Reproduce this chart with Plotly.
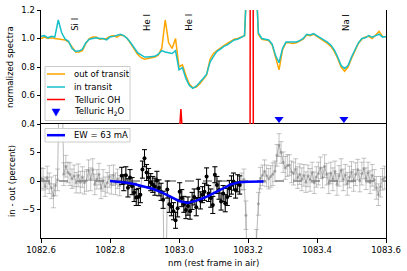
import plotly.graph_objects as go

# ---------------- data ----------------
top_start, top_step, n_top = 1082.60, 0.01, 101
wl_top = [round(top_start + top_step * i, 3) for i in range(n_top)]

in_transit = [1.015, 1.02, 1.005, 1.015, 1.01, 1.13, 1.04, 0.995, 0.98, 0.93,
              0.91, 0.912, 0.925, 0.97, 0.995, 1.0, 1.005, 1.0, 1.0, 0.99,
              1.01, 1.015, 1.02, 1.03, 1.02, 1.0, 0.97, 0.93, 0.9, 0.885,
              0.87, 0.87, 0.87, 0.875, 0.89, 0.915, 0.905, 0.9, 0.895, 0.915,
              0.78, 0.795, 0.72, 0.67, 0.65, 0.665, 0.69, 0.72, 0.75, 0.835,
              0.875, 0.91, 0.925, 0.945, 0.955, 0.97, 0.99, 0.995, 1.005, 1.02,
              1.6, 1.8, 1.6, 1.04, 1.0, 0.995, 0.99, 0.96, 0.88, 0.83,
              0.93, 0.975, 0.975, 0.97, 0.975, 0.985, 1.0, 1.03, 1.025, 1.035,
              1.02, 1.01, 0.995, 0.975, 0.955, 0.92, 0.87, 0.81, 0.79, 0.81,
              0.87, 0.92, 0.97, 1.0, 1.005, 1.02, 1.01, 1.02, 1.03, 1.01, 1.015]

out_transit = [1.0, 1.01, 1.0, 1.005, 1.0, 0.995, 0.99, 0.99, 0.975, 0.935,
               0.905, 0.905, 0.915, 0.965, 1.0, 1.01, 1.01, 0.995, 1.0, 1.0,
               1.015, 1.02, 1.01, 1.025, 1.02, 1.0, 0.965, 0.925, 0.89, 0.865,
               0.855, 0.86, 0.865, 0.87, 0.885, 0.93, 1.13, 0.97, 0.93, 1.0,
               0.80, 0.815, 0.74, 0.68, 0.655, 0.66, 0.68, 0.71, 0.745, 0.855,
               0.895, 0.915, 0.935, 0.95, 0.965, 0.98, 0.995, 1.0, 1.01, 1.02,
               1.6, 1.8, 1.6, 1.03, 0.995, 0.99, 0.985, 0.955, 0.86, 0.78,
               0.92, 0.97, 0.97, 0.965, 0.97, 0.98, 0.995, 1.025, 1.02, 1.03,
               1.015, 1.0, 0.985, 0.965, 0.945, 0.91, 0.86, 0.8, 0.77, 0.8,
               0.86, 0.91, 0.965, 0.995, 1.01, 1.015, 1.0, 1.025, 1.05, 1.015, 1.01]

oh_wl = [1082.600, 1083.000, 1083.0055, 1083.011, 1083.206, 1083.2107, 1083.2154, 1083.600]
oh_val = [0.3, 0.3, 0.505, 0.3, 0.3, 12.0, 0.3, 0.3]

h2o_wl = [1083.290, 1083.478]
h2o_val = [0.435, 0.435]

line_wl = [1082.700, 1082.909, 1083.030, 1083.486]
line_names = ["Si I", "He I", "He I", "Na I"]

res_start, res_step, n_res = 1082.60, 0.006, 167
wl_res = [round(res_start + res_step * j, 4) for j in range(n_res)]

residual = [0.5, 0.3, -1.0, 0.6, -0.4, -1.2, -2.6, -0.8, 0.2, 22,
            20, 1.2, 2.6, 1.5, 1.2, 0.4, 0.9, -0.3, 1.0, -0.2,
            0.7, -0.3, 0.1, 1.9, 0.3, 2.0, -0.6, 0.3, 1.2, -1.3,
            0.1, -1.0, -0.3, 0.8, -0.6, 1.0, -0.5, 0.4, -0.8, 0.9,
            -0.3, 1.0, -1.2, 0.6, -0.9, -2.0, -2.9, -2.8, -2.4, 2.0,
            4.0, 1.5, 0.6, -0.2, -0.6, -1.0, 0.1, -1.2, -1.9, -3.3,
            -30, -1.5, -4.1, -4.5, -5.3, -6.9, -4.8, -1.9, -3.0, -4.1,
            -5.1, -4.4, -5.3, -3.5, -2.8, -4.6, -1.3, -3.4, -2.4, -1.9,
            0.8, -2.2, -3.0, -4.2, 1.1, -0.7, -1.6, -3.6, -2.2, -3.9,
            -2.8, -1.3, -0.7, -0.1, -1.6, -0.4, -0.7, -0.1, 0.3, -6,
            -30, -40, -35, -25, -11, -4, 0.5, 1.0, 1.7, 0.9,
            0.4, 0.8, 1.2, 1.7, 4.5, 6.3, 5.0, 3.3, 2.3, 2.7,
            2.8, 1.6, 1.3, 2.1, 0.6, 1.2, 0.3, 1.0, -0.2, 0.9,
            0.2, 1.5, -0.3, 0.7, 1.3, 2.3, 0.6, 2.6, 1.2, -0.4,
            1.4, 0.3, 1.7, -0.6, 0.9, 1.9, 0.2, 1.1, -0.5, 0.7,
            1.6, 0.1, 1.2, 2.0, 0.0, 1.3, 2.2, 0.4, 1.5, -0.2,
            1.0, 0.2, -1.2, -2.4, -1.0, 0.3, 0.6]

res_err = [1.8, 1.9, 1.7, 2.0, 1.8, 1.9, 2.1, 1.8, 1.9, 3.0,
           3.0, 2.0, 1.9, 1.8, 2.0, 1.7, 1.9, 1.8, 2.0, 1.9,
           1.8, 2.0, 1.9, 1.8, 2.0, 1.9, 1.8, 1.7, 1.9, 1.8,
           1.9, 1.7, 1.8, 1.9, 1.7, 1.8, 1.9, 1.7, 1.8, 1.5,
           1.4, 1.5, 1.6, 1.4, 1.5, 1.6, 1.4, 1.5, 1.4, 1.5,
           1.5, 1.4, 1.6, 1.5, 1.4, 1.5, 1.6, 1.4, 1.5, 1.5,
           3.0, 1.5, 1.4, 1.6, 1.5, 1.4, 1.5, 1.6, 1.5, 1.4,
           1.5, 1.6, 1.4, 1.5, 1.4, 1.5, 1.6, 1.5, 1.4, 1.5,
           1.5, 1.4, 1.6, 1.5, 1.4, 1.5, 1.6, 1.5, 1.4, 1.5,
           1.5, 1.4, 1.6, 1.5, 1.4, 1.5, 1.6, 1.5, 1.8, 2.5,
           3.0, 3.0, 3.0, 3.0, 2.5, 2.0, 1.9, 1.8, 2.0, 1.9,
           1.8, 1.9, 2.0, 1.8, 1.9, 2.0, 1.9, 1.8, 2.0, 1.9,
           1.8, 1.9, 2.0, 1.8, 1.9, 1.8, 2.0, 1.9, 1.8, 1.9,
           2.0, 1.8, 1.9, 1.8, 2.0, 1.9, 1.8, 2.0, 1.9, 1.8,
           1.9, 2.0, 1.8, 1.9, 1.8, 2.0, 1.9, 1.8, 2.0, 1.9,
           1.8, 1.9, 2.0, 1.8, 1.9, 2.0, 1.8, 1.9, 1.8, 2.0,
           1.9, 1.8, 2.0, 1.9, 1.8, 1.9, 2.0]

fit_lo, fit_hi, outlier_idx = 1082.83, 1083.18, 60

fit_wl = [1082.80, 1082.825, 1082.85, 1082.875, 1082.90, 1082.925, 1082.95,
          1082.975, 1083.00, 1083.025, 1083.05, 1083.075, 1083.10, 1083.125,
          1083.15, 1083.175, 1083.20, 1083.225, 1083.245]
fit_val = [0.0, -0.1, -0.3, -0.6, -1.0, -1.4, -2.0, -2.8, -3.5, -3.85,
           -3.45, -2.9, -2.2, -1.4, -0.6, -0.2, -0.12, -0.1, -0.1]
fit_label = "EW = 63 mA"

legend_top_labels = ["out of transit", "in transit", "Telluric OH", "Telluric H<sub>2</sub>O"]

x_range = [1082.6, 1083.6]
x_ticks = [1082.6, 1082.8, 1083.0, 1083.2, 1083.4, 1083.6]

# ---------------- colours / styles ----------------
FONT = "DejaVu Sans"
C_OUT = "#ffa500"
C_IN = "#17bfc8"
C_OH = "#ff0000"
C_H2O = "#0000ff"
C_FIT = "#0000ff"

# layout geometry (pixels)
W, H = 407, 271
ML, MR, MT, MB = 41, 21, 10, 33
PW, PH = W - ML - MR, H - MT - MB


def px2x(px):
    return (px - ML) / PW


def py2y(py):
    return (H - MB - py) / PH


fig = go.Figure()

fig.add_trace(go.Scatter(x=wl_top, y=out_transit, mode="lines", showlegend=False,
                         line=dict(color=C_OUT, width=1.5), xaxis="x", yaxis="y2"))
fig.add_trace(go.Scatter(x=wl_top, y=in_transit, mode="lines", showlegend=False,
                         line=dict(color=C_IN, width=1.5), xaxis="x", yaxis="y2"))
fig.add_trace(go.Scatter(x=oh_wl, y=oh_val, mode="lines", showlegend=False,
                         line=dict(color=C_OH, width=1.5), xaxis="x", yaxis="y2"))
fig.add_trace(go.Scatter(x=h2o_wl, y=h2o_val, mode="markers", showlegend=False,
                         marker=dict(symbol="triangle-down", color=C_H2O, size=8),
                         xaxis="x", yaxis="y2"))

# bottom panel
fig.add_trace(go.Scatter(x=x_range, y=[0, 0], mode="lines", showlegend=False,
                         line=dict(color="gray", width=1.5, dash="dash"),
                         xaxis="x", yaxis="y"))
fig.add_trace(go.Scatter(x=wl_res, y=residual, mode="lines+markers", showlegend=False,
                         line=dict(color="rgba(128,128,128,0.55)", width=1),
                         marker=dict(color="rgba(128,128,128,0.55)", size=3),
                         error_y=dict(type="data", array=res_err, color="rgba(128,128,128,0.45)",
                                      thickness=1, width=2.5),
                         xaxis="x", yaxis="y"))

sel = [k for k, w in enumerate(wl_res) if fit_lo <= w <= fit_hi and k != outlier_idx]
fig.add_trace(go.Scatter(x=[wl_res[k] for k in sel], y=[residual[k] for k in sel],
                         mode="markers", showlegend=False,
                         marker=dict(color="black", size=4),
                         error_y=dict(type="data", array=[res_err[k] for k in sel],
                                      color="black", thickness=1, width=2.5),
                         xaxis="x", yaxis="y"))
fig.add_trace(go.Scatter(x=fit_wl, y=fit_val, mode="lines", showlegend=False,
                         line=dict(color=C_FIT, width=2.5), xaxis="x", yaxis="y"))

axis_common = dict(showline=True, linecolor="black", linewidth=1, mirror=True,
                   ticks="outside", ticklen=3.5, tickcolor="black", tickwidth=1,
                   showgrid=False, zeroline=False,
                   tickfont=dict(family=FONT, size=8.5, color="black"))

fig.update_layout(
    width=W, height=H,
    margin=dict(l=ML, r=MR, t=MT, b=MB, autoexpand=False),
    paper_bgcolor="white", plot_bgcolor="white",
    font=dict(family=FONT, size=8.5, color="black"),
    showlegend=False,
    xaxis=dict(range=x_range, tickvals=x_ticks, ticktext=[f"{v:.1f}" for v in x_ticks],
               domain=[0, 1], anchor="y", **axis_common),
    yaxis=dict(range=[-10, 10], domain=[0, 0.5], tickvals=[-5, 0, 5], anchor="x", **axis_common),
    yaxis2=dict(range=[0.4, 1.2], domain=[0.5, 1], tickvals=[0.4, 0.6, 0.8, 1.0, 1.2],
                ticktext=["0.4", "0.6", "0.8", "1.0", "1.2"], anchor="x", **axis_common),
)

shapes = []
annotations = []

# ---- manual legends (compact, matplotlib-like) ----
def legend_box(x0, x1, y0, y1):
    shapes.append(dict(type="rect", xref="paper", yref="paper",
                       x0=px2x(x0), x1=px2x(x1), y0=py2y(y1), y1=py2y(y0),
                       line=dict(color="#cccccc", width=1),
                       fillcolor="rgba(255,255,255,0.85)", layer="above"))


def legend_line(yc, color, width):
    shapes.append(dict(type="line", xref="paper", yref="paper",
                       x0=px2x(47), x1=px2x(65), y0=py2y(yc), y1=py2y(yc),
                       line=dict(color=color, width=width), layer="above"))


def legend_text(yc, text):
    annotations.append(dict(x=px2x(71.5), y=py2y(yc), xref="paper", yref="paper", text=text,
                            showarrow=False, xanchor="left", yanchor="middle",
                            font=dict(family=FONT, size=8.5, color="black")))


legend_box(45, 130, 66.5, 120.5)
rows = [74, 87, 99.5, 112]
legend_line(rows[0], C_OUT, 1.5)
legend_line(rows[1], C_IN, 1.5)
legend_line(rows[2], C_OH, 1.5)
# triangle marker for H2O
tx, ty = 56, rows[3]
shapes.append(dict(type="path", xref="paper", yref="paper",
                   path=f"M {px2x(tx-4)},{py2y(ty-3)} L {px2x(tx+4)},{py2y(ty-3)} L {px2x(tx)},{py2y(ty+4)} Z",
                   fillcolor=C_H2O, line=dict(color=C_H2O, width=0.5), layer="above"))
for yc, lab in zip(rows, legend_top_labels):
    legend_text(yc, lab)

legend_box(45, 130, 128.5, 142)
legend_line(135.2, C_FIT, 2.5)
legend_text(135.2, fit_label)

for w, name in zip(line_wl, line_names):
    annotations.append(dict(x=w, y=1.04, xref="x", yref="y2", text=name, showarrow=False,
                            textangle=-90, xanchor="center", yanchor="bottom",
                            font=dict(family=FONT, size=8.5, color="black")))
annotations.append(dict(x=px2x(10), y=py2y(67), xref="paper", yref="paper", text="normalized spectra",
                        showarrow=False, textangle=-90, xanchor="center", yanchor="middle",
                        font=dict(family=FONT, size=8.5, color="black")))
annotations.append(dict(x=px2x(12), y=py2y(181), xref="paper", yref="paper", text="in - out (percent)",
                        showarrow=False, textangle=-90, xanchor="center", yanchor="middle",
                        font=dict(family=FONT, size=8.5, color="black")))
annotations.append(dict(x=0.5, y=py2y(263), xref="paper", yref="paper", text="nm (rest frame in air)",
                        showarrow=False, xanchor="center", yanchor="middle",
                        font=dict(family=FONT, size=8.5, color="black")))
fig.update_layout(shapes=shapes, annotations=annotations)

fig.write_html("out.html", config={"displayModeBar": False},
               post_script="document.body.style.margin='0';")
